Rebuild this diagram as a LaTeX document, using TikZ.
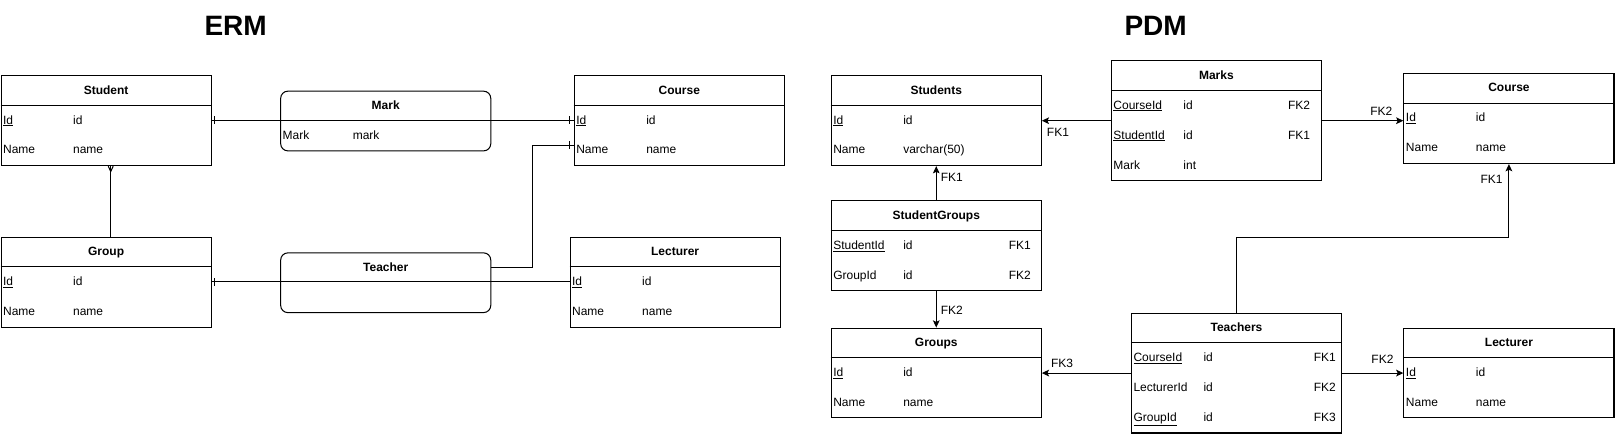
\documentclass[tikz,border=0pt]{standalone}
\usepackage{fontspec}
\setmainfont{Liberation Sans}
\usetikzlibrary{arrows.meta,calc}
\newcommand\fs{\fontsize{11.65}{14}\selectfont}
\newcommand\hdr[2]{%
  \draw ([yshift=-29.1pt]#1.north west) -- ([yshift=-29.1pt]#1.north east);
  \node[ttl] (#1T) at ([yshift=-14.55pt]#1.north) {#2};}
\tikzset{
  tbl/.style={draw, line width=1pt, anchor=north west, minimum width=204pt, inner sep=0pt},
  rbox/.style={tbl, rounded corners=7pt, minimum height=58pt},
  ttl/.style={font=\bfseries\fs, inner sep=0pt, text height=9pt, text depth=1.5pt},
  cel/.style={anchor=west, inner sep=0pt, font=\fs, text height=9pt, text depth=1.5pt},
  lbl/.style={cel},
  big/.style={font=\bfseries\fontsize{27.2}{30}\selectfont, inner sep=0pt},
  arr/.style={-{Stealth[length=7pt,width=6.5pt,inset=1.5pt]}},
}
\begin{document}
\begin{tikzpicture}[x=1pt,y=-1pt,line width=1pt]
\useasboundingbox (0,0) rectangle (1568,421.4);

% titles
\node[big] (ermT) at (228.8,24.8) {ERM};
\node[big] (pdmT) at (1122,24.8) {PDM};

% ---------------- ERM ----------------
\node[tbl, minimum height=87.3pt] (student) at (0.5,73) {};
\hdr{student}{Student}
\node[cel] (s1k) at (2.5,116.65) {\underline{Id}};
\node[cel] (s1t) at (70.5,116.65) {id};
\node[cel] (s2k) at (2.5,145.75) {Name};
\node[cel] (s2t) at (70.5,145.75) {name};

\node[tbl, minimum height=87.3pt] (group) at (0.5,230) {};
\hdr{group}{Group}
\node[cel] (g1k) at (2.5,273.65) {\underline{Id}};
\node[cel] (g1t) at (70.5,273.65) {id};
\node[cel] (g2k) at (2.5,302.75) {Name};
\node[cel] (g2t) at (70.5,302.75) {name};

\node[tbl, minimum height=87.3pt] (courseE) at (557,73) {};
\hdr{courseE}{Course}
\node[cel] (ce1k) at (559,116.65) {\underline{Id}};
\node[cel] (ce1t) at (627,116.65) {id};
\node[cel] (ce2k) at (559,145.75) {Name};
\node[cel] (ce2t) at (627,145.75) {name};

\node[tbl, minimum height=87.3pt] (lecturerE) at (553,230) {};
\hdr{lecturerE}{Lecturer}
\node[cel] (le1k) at (555,273.65) {\underline{Id}};
\node[cel] (le1t) at (623,273.65) {id};
\node[cel] (le2k) at (555,302.75) {Name};
\node[cel] (le2t) at (623,302.75) {name};

\node[rbox] (mark) at (272,88) {};
\node[ttl] (markT) at ([yshift=-14.55pt]mark.north) {Mark};
\node[cel] (mk1k) at (274,131.65) {Mark};
\node[cel] (mk1t) at (342,131.65) {mark};

\node[rbox] (teacher) at (272,245) {};
\node[ttl] (teacherT) at ([yshift=-14.6pt]teacher.north) {Teacher};

% ERM connectors
\coordinate (a1) at (student.east |- s1k);
\coordinate (a2) at (courseE.west |- ce1k);
\draw (a1) -- (a2);
\draw ([xshift=3pt]a1) +(0,-3.7) -- +(0,3.7);
\draw ([xshift=-4pt]a2) +(0,-3.7) -- +(0,3.7);

\coordinate (b1) at (group.east |- g1k);
\coordinate (b2) at (lecturerE.west |- le1k);
\draw (b1) -- (b2);
\draw ([xshift=3pt]b1) +(0,-3.7) -- +(0,3.7);

\coordinate (c1) at ([yshift=-14.6pt]teacher.north east);
\coordinate (c2) at ([yshift=-67.8pt]courseE.north west);
\draw (c1) -- ++(40,0) |- (c2);
\draw ([xshift=-4pt]c2) +(0,-3.7) -- +(0,3.7);

\coordinate (d1) at ([xshift=107pt]student.south west);
\coordinate (d2) at ([xshift=107pt]group.north west);
\draw (d1) -- (d2);
\draw ([xshift=-2.4pt]d1) -- ([yshift=-5.2pt]d1) -- ([xshift=2.4pt]d1);

% ---------------- PDM ----------------
\node[tbl, minimum height=87.3pt] (students) at (806.5,73) {};
\hdr{students}{Students}
\node[cel] (st1k) at (808.5,116.65) {\underline{Id}};
\node[cel] (st1t) at (876.5,116.65) {id};
\node[cel] (st2k) at (808.5,145.75) {Name};
\node[cel] (st2t) at (876.5,145.75) {varchar(50)};

\node[tbl, minimum height=116.4pt] (marks) at (1078.5,58.5) {};
\hdr{marks}{Marks}
\node[cel] (ma1k) at (1080.5,102.15) {\underline{CourseId}};
\node[cel] (ma1t) at (1148.5,102.15) {id};
\node[cel] (ma1f) at (1250,102.15) {FK2};
\node[cel] (ma2k) at (1080.5,131.25) {\underline{StudentId}};
\node[cel] (ma2t) at (1148.5,131.25) {id};
\node[cel] (ma2f) at (1250,131.25) {FK1};
\node[cel] (ma3k) at (1080.5,160.35) {Mark};
\node[cel] (ma3t) at (1148.5,160.35) {int};

\node[tbl, minimum height=87.3pt] (courseP) at (1362.5,71) {};
\hdr{courseP}{Course}
\node[cel] (cp1k) at (1364.5,114.65) {\underline{Id}};
\node[cel] (cp1t) at (1432.5,114.65) {id};
\node[cel] (cp2k) at (1364.5,143.75) {Name};
\node[cel] (cp2t) at (1432.5,143.75) {name};

\node[tbl, minimum height=87.3pt] (sgroups) at (806.5,194.5) {};
\hdr{sgroups}{StudentGroups}
\node[cel] (sg1k) at (808.5,238.15) {\underline{StudentId}};
\node[cel] (sg1t) at (876.5,238.15) {id};
\node[cel] (sg1f) at (979,238.15) {FK1};
\node[cel] (sg2k) at (808.5,267.25) {GroupId};
\node[cel] (sg2t) at (876.5,267.25) {id};
\node[cel] (sg2f) at (979,267.25) {FK2};

\node[tbl, minimum height=87.3pt] (groups) at (806.5,318) {};
\hdr{groups}{Groups}
\node[cel] (gr1k) at (808.5,361.65) {\underline{Id}};
\node[cel] (gr1t) at (876.5,361.65) {id};
\node[cel] (gr2k) at (808.5,390.75) {Name};
\node[cel] (gr2t) at (876.5,390.75) {name};

\node[tbl, minimum height=116.4pt] (teachers) at (1098,303.5) {};
\hdr{teachers}{Teachers}
\node[cel] (te1k) at (1100,347.15) {\underline{CourseId}};
\node[cel] (te1t) at (1168,347.15) {id};
\node[cel] (te1f) at (1275,347.15) {FK1};
\node[cel] (te2k) at (1100,376.25) {LecturerId};
\node[cel] (te2t) at (1168,376.25) {id};
\node[cel] (te2f) at (1275,376.25) {FK2};
\node[cel] (te3k) at (1100,405.35) {\underline{GroupId}};
\node[cel] (te3t) at (1168,405.35) {id};
\node[cel] (te3f) at (1275,405.35) {FK3};

\node[tbl, minimum height=87.3pt] (lecturerP) at (1362.5,318) {};
\hdr{lecturerP}{Lecturer}
\node[cel] (lp1k) at (1364.5,361.65) {\underline{Id}};
\node[cel] (lp1t) at (1432.5,361.65) {id};
\node[cel] (lp2k) at (1364.5,390.75) {Name};
\node[cel] (lp2t) at (1432.5,390.75) {name};

% PDM connectors
\draw[arr] (marks.west) -- (marks.west -| students.east);
\node[lbl] (l1) at (1016,128.5) {FK1};
\draw[arr] (marks.east) -- (marks.east -| courseP.west);
\node[lbl] (l2) at (1330,108.4) {FK2};
\coordinate (bend) at (1300,230.8);
\draw[arr] (teachers.north) |- (bend) -| (courseP.south);
\node[lbl] (l3) at (1437,174.8) {FK1};
\draw[arr] (sgroups.north) -- (students.south);
\node[lbl] (l4) at (913,172.8) {FK1};
\draw[arr] (sgroups.south) -- (groups.north);
\node[lbl] (l5) at (913,301.7) {FK2};
\draw[arr] (teachers.west) -- (teachers.west -| groups.east);
\node[lbl] (l6) at (1020,353) {FK3};
\draw[arr] (teachers.east) -- (teachers.east -| lecturerP.west);
\node[lbl] (l7) at (1331,349.6) {FK2};
\end{tikzpicture}
\end{document}
